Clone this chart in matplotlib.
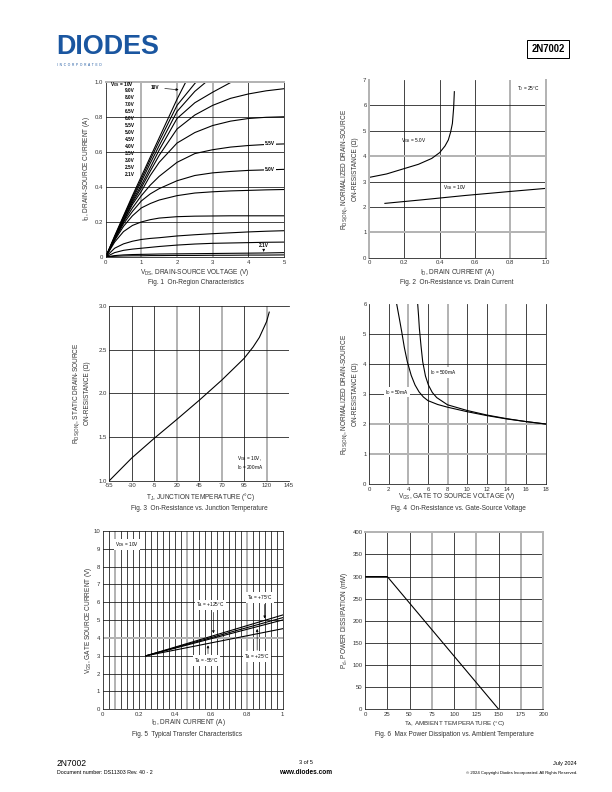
import numpy as np
import matplotlib.pyplot as plt

plt.rcParams['font.family'] = ['Liberation Sans', 'DejaVu Sans']
plt.rcParams['mathtext.default'] = 'regular'
plt.rcParams['axes.unicode_minus'] = False

W, H = 612, 792
DARK = '#1a1a1a'
GRAY = '#b4b4b4'

# Fig. 1 - on-region characteristics
vds = [0, 0.25, 0.5, 0.75, 1, 1.25, 1.5, 2, 2.5, 3, 3.5, 4, 4.5, 5]
nan = np.nan
id_curves = [
    [0, 0.12, 0.235, 0.35, 0.46, 0.57, 0.68, 0.90, 1.10, nan, nan, nan, nan, nan],
    [0, 0.115, 0.23, 0.34, 0.445, 0.555, 0.66, 0.865, 0.99, 1.10, nan, nan, nan, nan],
    [0, 0.11, 0.225, 0.33, 0.43, 0.535, 0.635, 0.83, 0.945, 1.03, 1.10, nan, nan, nan],
    [0, 0.11, 0.22, 0.32, 0.41, 0.51, 0.61, 0.79, 0.88, 0.94, 0.995, 1.04, nan, nan],
    [0, 0.105, 0.21, 0.31, 0.395, 0.49, 0.58, 0.73, 0.81, 0.865, 0.905, 0.93, 0.948, 0.96],
    [0, 0.105, 0.205, 0.30, 0.375, 0.465, 0.54, 0.65, 0.71, 0.75, 0.775, 0.79, 0.797, 0.80],
    [0, 0.10, 0.20, 0.28, 0.35, 0.41, 0.46, 0.54, 0.59, 0.612, 0.627, 0.636, 0.642, 0.645],
    [0, 0.10, 0.19, 0.26, 0.32, 0.36, 0.39, 0.435, 0.465, 0.48, 0.488, 0.494, 0.497, 0.50],
    [0, 0.095, 0.175, 0.235, 0.28, 0.305, 0.325, 0.35, 0.365, 0.372, 0.377, 0.38, 0.383, 0.385],
    [0, 0.085, 0.145, 0.18, 0.20, 0.213, 0.222, 0.23, 0.233, 0.234, 0.235, 0.235, 0.235, 0.235],
    [0, 0.05, 0.075, 0.09, 0.10, 0.106, 0.11, 0.12, 0.127, 0.133, 0.138, 0.143, 0.147, 0.15],
    [0, 0.025, 0.038, 0.045, 0.05, 0.055, 0.06, 0.068, 0.074, 0.078, 0.08, 0.082, 0.084, 0.085],
    [0, 0.008, 0.012, 0.014, 0.015, 0.016, 0.017, 0.018, 0.019, 0.02, 0.021, 0.022, 0.023, 0.025],
    [0, 0.004, 0.006, 0.007, 0.007, 0.008, 0.008, 0.009, 0.009, 0.01, 0.01, 0.011, 0.011, 0.012],
]
vgs_list = ['9.0V', '8.0V', '7.0V', '6.5V', '6.0V', '5.5V', '5.0V',
            '4.5V', '4.0V', '3.5V', '3.0V', '2.5V', '2.1V']

# Fig. 2 - on-resistance vs drain current
id_5v = [0.006, 0.1, 0.185, 0.28, 0.355, 0.40, 0.43, 0.449, 0.462, 0.472, 0.479, 0.483]
rds_5v = [3.17, 3.3, 3.48, 3.68, 3.91, 4.14, 4.4, 4.64, 4.95, 5.29, 5.9, 6.54]
id_10v = [0.09, 0.3, 0.543, 0.8, 1.0]
rds_10v = [2.14, 2.28, 2.45, 2.61, 2.73]

# Fig. 3 - on-resistance vs junction temperature
tj = [-55, -30, -5, 20, 45, 70, 95, 105, 112, 120, 123]
rds_tj = [1.0, 1.26, 1.485, 1.70, 1.92, 2.15, 2.40, 2.53, 2.64, 2.82, 2.93]

# Fig. 4 - on-resistance vs gate-source voltage
vgs_50 = [2.82, 3.1, 3.33, 3.6, 3.9, 4.3, 4.69, 5.1, 5.54, 6, 7, 8, 10, 12, 14, 16, 18]
rds_50 = [6.0, 5.5, 5.08, 4.55, 4.08, 3.62, 3.3, 3.07, 2.9, 2.78, 2.65, 2.56, 2.41, 2.28, 2.17, 2.08, 2.0]
vgs_500 = [4.96, 5.05, 5.13, 5.3, 5.47, 5.75, 6.05, 6.45, 6.9, 8, 10, 12, 14, 16, 18]
rds_500 = [6.0, 5.6, 5.19, 4.6, 4.08, 3.6, 3.3, 3.05, 2.88, 2.64, 2.45, 2.3, 2.18, 2.08, 2.0]

# Fig. 5 - transfer characteristics
id_tr = [0.24, 1.0]
vgs_tr = {'+75': [3.0, 5.29], '+125': [3.0, 5.14], '+25': [3.0, 5.01], '-55': [3.0, 4.52]}

# Fig. 6 - power derating
ta = [0, 25, 150]
pd_mw = [300, 300, 0]


def main():
    fig = plt.figure(figsize=(W / 72, H / 72), dpi=72)

    def box(x0, y0, x1, y1):
        return fig.add_axes([x0 / W, 1 - y1 / H, (x1 - x0) / W, (y1 - y0) / H])

    def txt(x, y, s, **kw):
        kw.setdefault('ha', 'center')
        kw.setdefault('va', 'center')
        fig.text(x / W, 1 - y / H, s, **kw)

    def grid(ax, xs, ys):
        for v, c in xs:
            ax.axvline(v, color=DARK if c == 'd' else GRAY, lw=0.8 if c == 'd' else 2.0, zorder=0)
        for v, c in ys:
            ax.axhline(v, color=DARK if c == 'd' else GRAY, lw=0.8 if c == 'd' else 2.0, zorder=0)

    def style(ax, spines):
        ax.tick_params(length=0, labelsize=6, pad=2.5, labelcolor='#333')
        for k, c in spines.items():
            if c is None:
                ax.spines[k].set_visible(False)
            else:
                ax.spines[k].set_color(DARK if c == 'd' else GRAY)
                ax.spines[k].set_linewidth(0.8 if c == 'd' else 2.0)

    def arrow(ax, tip, start):
        ax.annotate('', xy=tip, xytext=start,
                    arrowprops=dict(arrowstyle='-|>', lw=0.6, color='k', mutation_scale=5))

    # header
    txt(56, 47, 'DIODES', ha='left', fontsize=27, fontweight='bold', color='#1a56a0')
    txt(57, 65, 'I  N  C  O  R  P  O  R  A  T  E  D', ha='left', fontsize=3.2, color='#1a56a0')
    txt(548, 49, '2N7002', fontsize=9.5, fontweight='bold',
        bbox=dict(boxstyle='square,pad=0.45', fc='white', ec='k', lw=1))

    # ---- Fig 1
    ax = box(105.7, 81.7, 284, 257)
    grid(ax, [(1, 'g'), (2, 'g'), (3, 'g'), (4, 'd')],
         [(0.2, 'd'), (0.4, 'd'), (0.6, 'd'), (0.8, 'd')])
    for c in id_curves:
        ax.plot(vds, c, color='k', lw=1.1)
    ax.set_xlim(0, 5)
    ax.set_ylim(0, 1.0)
    ax.set_xticks([0, 1, 2, 3, 4, 5])
    ax.set_yticks([0, 0.2, 0.4, 0.6, 0.8, 1.0])
    ax.set_yticklabels(['0', '0.2', '0.4', '0.6', '0.8', '1.0'])
    style(ax, {'top': 'g', 'right': 'd', 'left': 'd', 'bottom': 'd'})
    ax.text(0.12, 0.985, 'V$_{GS}$ = 10V', fontsize=4.8, fontweight='bold', va='center')
    for i, s in enumerate(vgs_list):
        ax.text(0.54, 0.947 - i * 0.0395, s, fontsize=4.8, fontweight='bold', va='center')
    ax.text(1.25, 0.968, '10V', fontsize=4.8, fontweight='bold', va='center')
    arrow(ax, (2.1, 0.953), (1.6, 0.962))
    for y, s in [(0.645, '5.5V'), (0.5, '5.0V')]:
        ax.text(4.6, y, s, fontsize=4.8, fontweight='bold', ha='center', va='center',
                bbox=dict(fc='white', ec='none', pad=1.0))
    ax.text(4.43, 0.068, '2.1V', fontsize=4.8, fontweight='bold', ha='center', va='center')
    arrow(ax, (4.43, 0.018), (4.43, 0.055))
    txt(87, 169, 'I$_D$, DRAIN-SOURCE CURRENT (A)', rotation=90, fontsize=6.5, color='#333')
    txt(195, 272, 'V$_{DS}$, DRAIN-SOURCE VOLTAGE (V)', fontsize=6.5, color='#333')
    txt(196, 283, 'Fig. 1  On-Region Characteristics', fontsize=6.5, color='#333')

    # ---- Fig 2
    ax = box(369, 80, 545.7, 257.7)
    grid(ax, [(0.2, 'd'), (0.4, 'd'), (0.6, 'd'), (0.8, 'g')],
         [(1, 'g'), (2, 'd'), (3, 'd'), (4, 'g'), (5, 'd'), (6, 'd')])
    ax.plot(id_5v, rds_5v, color='k', lw=1.1)
    ax.plot(id_10v, rds_10v, color='k', lw=1.1)
    ax.set_xlim(0, 1.0)
    ax.set_ylim(0, 7)
    ax.set_xticks([0, 0.2, 0.4, 0.6, 0.8, 1.0])
    ax.set_xticklabels(['0', '0.2', '0.4', '0.6', '0.8', '1.0'])
    ax.set_yticks(range(8))
    style(ax, {'top': None, 'right': 'g', 'left': 'g', 'bottom': 'd'})
    ax.text(0.18, 4.6, 'V$_{GS}$ = 5.0V', fontsize=4.8, va='center')
    ax.text(0.42, 2.77, 'V$_{GS}$ = 10V', fontsize=4.8, va='center')
    ax.text(0.84, 6.67, 'T$_J$ = 25°C', fontsize=4.8, va='center')
    txt(349, 169, 'R$_{DS(ON)}$, NORMALIZED DRAIN-SOURCE\nON-RESISTANCE (Ω)', rotation=90,
        fontsize=6.5, color='#333', linespacing=1.25)
    txt(457, 272, 'I$_D$, DRAIN CURRENT (A)', fontsize=6.5, color='#333')
    txt(457, 283, 'Fig. 2  On-Resistance vs. Drain Current', fontsize=6.5, color='#333')

    # ---- Fig 3
    ax = box(109.3, 306, 289, 480.7)
    grid(ax, [(-30, 'd'), (-5, 'd'), (20, 'g'), (45, 'd'), (70, 'g'), (95, 'd'), (120, 'g')],
         [(1.5, 'd'), (2.0, 'd'), (2.5, 'd')])
    ax.plot(tj, rds_tj, color='k', lw=1.1)
    ax.set_xlim(-55, 145)
    ax.set_ylim(1.0, 3.0)
    ax.set_xticks(range(-55, 146, 25))
    ax.set_yticks([1.0, 1.5, 2.0, 2.5, 3.0])
    ax.set_yticklabels(['1.0', '1.5', '2.0', '2.5', '3.0'])
    style(ax, {'top': 'd', 'right': None, 'left': 'd', 'bottom': 'd'})
    ax.text(87, 1.25, 'V$_{GS}$ = 10V,', fontsize=4.8, va='center')
    ax.text(87, 1.15, 'I$_D$ = 200mA', fontsize=4.8, va='center')
    txt(81, 393, 'R$_{DS(ON)}$, STATIC DRAIN-SOURCE\nON-RESISTANCE (Ω)', rotation=90,
        fontsize=6.5, color='#333', linespacing=1.25)
    txt(200, 497, 'T$_J$, JUNCTION TEMPERATURE (°C)', fontsize=6.5, color='#333')
    txt(199, 508, 'Fig. 3  On-Resistance vs. Junction Temperature', fontsize=6.5, color='#333')

    # ---- Fig 4
    ax = box(369, 304, 545.7, 484)
    grid(ax, [(2, 'd'), (4, 'g'), (6, 'd'), (8, 'g'), (10, 'd'), (12, 'd'), (14, 'g'), (16, 'd')],
         [(1, 'g'), (2, 'g'), (3, 'd'), (4, 'd'), (5, 'd')])
    ax.plot(vgs_50, rds_50, color='k', lw=1.1)
    ax.plot(vgs_500, rds_500, color='k', lw=1.1)
    ax.set_xlim(0, 18)
    ax.set_ylim(0, 6)
    ax.set_xticks(range(0, 19, 2))
    ax.set_yticks(range(7))
    style(ax, {'top': None, 'right': 'd', 'left': 'd', 'bottom': 'd'})
    ax.text(6.2, 3.72, 'I$_D$ = 500mA', fontsize=4.8, va='center',
            bbox=dict(fc='white', ec='none', pad=0.8))
    ax.text(1.63, 3.06, 'I$_D$ = 50mA', fontsize=4.8, va='center',
            bbox=dict(fc='white', ec='none', pad=0.8))
    txt(349, 394, 'R$_{DS(ON)}$, NORMALIZED DRAIN-SOURCE\nON-RESISTANCE (Ω)', rotation=90,
        fontsize=6.5, color='#333', linespacing=1.25)
    txt(457, 497, 'V$_{GS}$, GATE TO SOURCE VOLTAGE (V)', fontsize=6.5, color='#333')
    txt(458, 508, 'Fig. 4  On-Resistance vs. Gate-Source Voltage', fontsize=6.5, color='#333')

    # ---- Fig 5
    ax = box(102.7, 531, 282.7, 709.3)
    xs = [(i / 30, 'g' if i in (2, 14, 24) else 'd') for i in range(1, 30)]
    ys = [(i, 'g' if i == 4 else 'd') for i in range(1, 10)]
    grid(ax, xs, ys)
    for k in vgs_tr:
        ax.plot(id_tr, vgs_tr[k], color='k', lw=1.1)
    ax.set_xlim(0, 1)
    ax.set_ylim(0, 10)
    ax.set_xticks([0, 0.2, 0.4, 0.6, 0.8, 1])
    ax.set_xticklabels(['0', '0.2', '0.4', '0.6', '0.8', '1'])
    ax.set_yticks(range(11))
    style(ax, {'top': 'd', 'right': 'd', 'left': 'd', 'bottom': 'd'})
    wb = dict(fc='white', ec='none', pad=1.0)
    ax.text(0.068, 9.22, 'V$_{DS}$ = 10V', fontsize=4.8, va='center', bbox=wb)
    ax.text(0.6, 5.85, 'T$_A$ = +125°C', fontsize=4.8, ha='center', va='center', bbox=wb)
    ax.text(0.874, 6.28, 'T$_A$ = +75°C', fontsize=4.8, ha='center', va='center', bbox=wb)
    ax.text(0.578, 2.76, 'T$_A$ = -55°C', fontsize=4.8, ha='center', va='center', bbox=wb)
    ax.text(0.856, 2.95, 'T$_A$ = +25°C', fontsize=4.8, ha='center', va='center', bbox=wb)
    arrow(ax, (0.615, 4.15), (0.615, 5.55))
    arrow(ax, (0.9, 4.98), (0.9, 6.0))
    arrow(ax, (0.585, 3.7), (0.585, 3.0))
    arrow(ax, (0.858, 4.62), (0.858, 3.2))
    txt(88, 620, 'V$_{GS}$, GATE SOURCE CURRENT (V)', rotation=90, fontsize=6.5, color='#333')
    txt(188, 723, 'I$_D$, DRAIN CURRENT (A)', fontsize=6.5, color='#333')
    txt(187, 734, 'Fig. 5  Typical Transfer Characteristics', fontsize=6.5, color='#333')

    # ---- Fig 6
    ax = box(365, 532.3, 543.3, 709.3)
    grid(ax, [(25, 'd'), (50, 'd'), (75, 'g'), (100, 'd'), (125, 'g'), (150, 'd'), (175, 'g')],
         [(50, 'd'), (100, 'd'), (150, 'd'), (200, 'd'), (250, 'd'), (300, 'd'), (350, 'd')])
    ax.plot(ta, pd_mw, color='k', lw=1.1)
    ax.set_xlim(0, 200)
    ax.set_ylim(0, 400)
    ax.set_xticks(range(0, 201, 25))
    ax.set_yticks(range(0, 401, 50))
    style(ax, {'top': 'g', 'right': 'g', 'left': 'd', 'bottom': 'd'})
    txt(345, 620, 'P$_d$, POWER DISSIPATION (mW)', rotation=90, fontsize=6.5, color='#333')
    txt(455, 723.5, 'T$_A$, AMBIENT TEMPERATURE (°C)', fontsize=6.3, color='#333')
    txt(454, 734, 'Fig. 6  Max Power Dissipation vs. Ambient Temperature', fontsize=6.5, color='#333')

    # footer
    txt(57, 763, '2N7002', ha='left', fontsize=8.5)
    txt(57, 773, 'Document number: DS11303 Rev. 40 - 2', ha='left', fontsize=5.2)
    txt(306, 763, '3 of 5', fontsize=5.5)
    txt(306, 773, 'www.diodes.com', fontsize=6.5, fontweight='bold')
    txt(577, 763, 'July 2024', ha='right', fontsize=5.5)
    txt(577, 773, '© 2024 Copyright Diodes Incorporated. All Rights Reserved.', ha='right', fontsize=4.2)

    fig.savefig('out.png', dpi=72)


if __name__ == '__main__':
    main()
